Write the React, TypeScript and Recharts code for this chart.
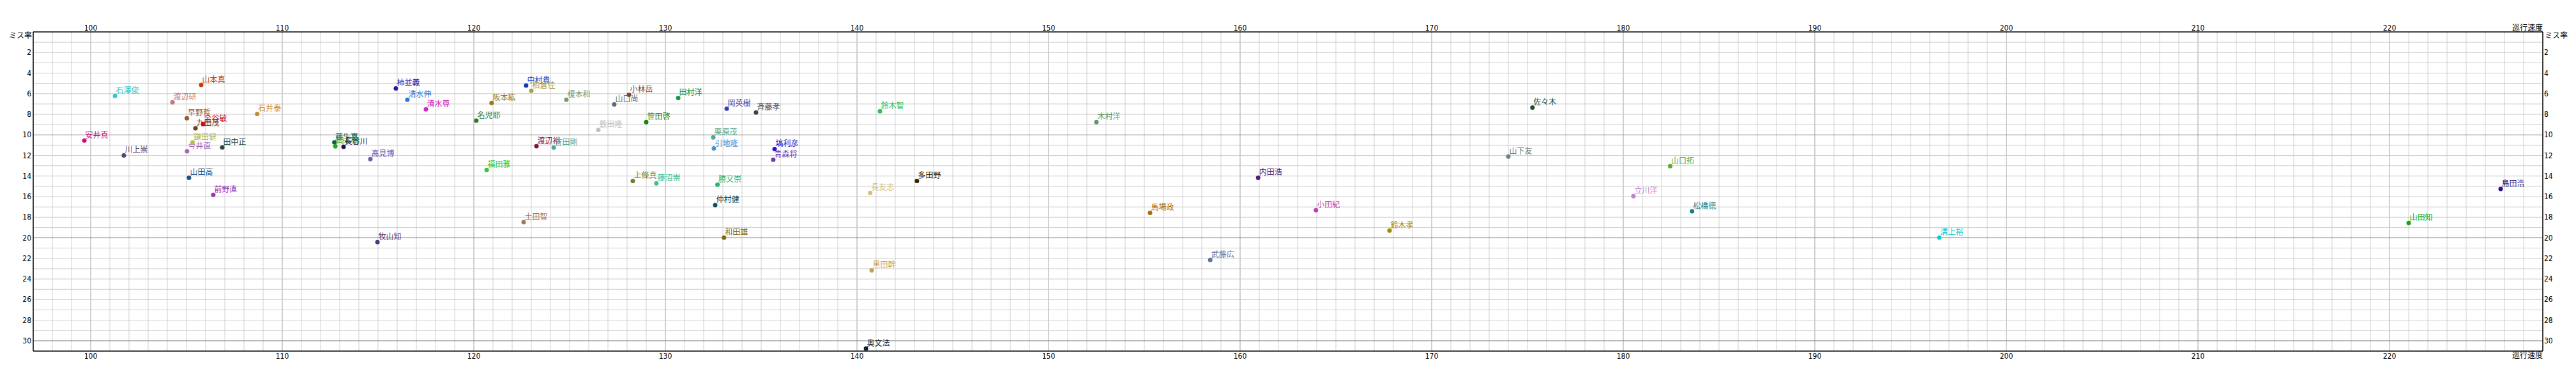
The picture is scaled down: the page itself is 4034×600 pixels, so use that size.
import React from 'react';
import { ScatterChart, Scatter, XAxis, YAxis, ReferenceLine } from 'recharts';

const names = ['安井真','石澤俊','川上崇','渡辺研','早野哲','今井直','山田高','鎌田健','九田茂','山本真','金谷敏','前野直','田中正','石井泰','藤生嘉','岡本徳','長谷川','高見博','牧山知','柿並義','清水伸','清水尊','名児耶','福田雅','阪本紘','土田智','中村貴','柏倉佳','渡辺裕','吉田剛','榎本和','藪田隆','山口尚','小林岳','上條真','笹田啓','藤沼崇','田村洋','栗原茂','引地隆','仲村健','勝又崇','和田雄','岡英樹','斉藤孝','青森将','塙利彦','奥文法','長友志','黒田幹','鈴木智','多田野','木村洋','馬場政','武藤広','内田浩','小田紀','鈴木孝','山下友','佐々木','立川洋','山口拓','松橋徳','溝上裕','山田知','島田浩'];
const speeds = [99.67,101.27,101.73,104.27,105.02,105.03,105.13,105.32,105.47,105.77,105.87,106.4,106.87,108.69,112.72,112.77,113.2,114.6,114.97,115.93,116.53,117.5,120.13,120.67,120.93,122.6,122.73,123.0,123.27,124.17,124.83,126.5,127.33,128.1,128.3,129.0,129.53,130.67,132.5,132.53,132.6,132.72,133.06,133.2,134.73,135.63,135.7,140.47,140.69,140.77,141.2,143.13,152.5,155.3,158.44,160.94,163.96,167.8,174.0,175.26,180.53,182.45,183.59,196.5,221.0,225.8];
const missRates = [10.56,6.22,11.99,6.84,8.39,11.6,14.16,10.72,9.36,5.15,8.95,15.83,11.22,7.96,10.73,11.12,11.16,12.36,20.42,5.48,6.59,7.52,8.62,13.41,6.9,18.47,5.21,5.72,11.1,11.24,6.59,9.51,7.03,6.1,14.47,8.76,14.71,6.41,10.25,11.32,16.82,14.84,19.98,7.46,7.83,12.42,11.37,30.75,15.64,23.15,7.71,14.47,8.76,17.57,22.15,14.16,17.32,19.3,12.11,7.34,15.95,13.04,17.42,19.98,18.56,15.25];
const colors = ['#d0107a','#30c8c8','#504870','#c87878','#a0582a','#a868b8','#185090','#b8c050','#703828','#c83c10','#c81010','#9838b8','#284840','#c88838','#0a6050','#20a820','#201050','#7858a8','#503878','#3018a0','#3078d8','#d028c0','#287828','#30c830','#987818','#a07858','#1038c0','#a8a048','#881030','#48a8a0','#789878','#c0c0c0','#586878','#784838','#708028','#108810','#40c090','#109848','#50a890','#5090d0','#105058','#20b878','#806810','#3840b0','#404050','#7038b0','#3010c8','#102030','#d0c080','#c8a050','#30c050','#3a2000','#609860','#a86c10','#6070a0','#502070','#c040b0','#a08800','#708080','#105038','#c080d0','#60a830','#108088','#10c8d0','#10a810','#301080'];

const xTicks = [100,110,120,130,140,150,160,170,180,190,200,210,220,228];
const yTicks = [0,2,4,6,8,10,12,14,16,18,20,22,24,26,28,30];
const xLabel = '巡行速度';
const yLabel = 'ミス率';
const X_MIN = 97, X_MAX = 228, Y_MIN = 0, Y_MAX = 31;

const xGrid: number[] = [];
for (let v = X_MIN + 1; v < X_MAX; v++) xGrid.push(v);
const yGrid: number[] = [];
for (let v = Y_MIN + 1; v < Y_MAX; v++) yGrid.push(v);

const data = names.map((n, i) => ({ name: n, x: speeds[i], y: missRates[i], color: colors[i] }));

const NUM_FONT = "'Liberation Sans Narrow', 'DejaVu Sans Condensed', sans-serif";
const JP_FONT = "'Noto Sans CJK JP', sans-serif";

const TopTick = (p: any) => {
  const v = p.payload.value;
  if (v === X_MAX) return <text x={p.x} y={p.y - 2} textAnchor="end" fontSize={12} fontFamily={JP_FONT} fill="#000">{xLabel}</text>;
  return <text x={p.x} y={p.y - 2} textAnchor="middle" fontSize={12} fontFamily={NUM_FONT} fill="#000">{v}</text>;
};
const BottomTick = (p: any) => {
  const v = p.payload.value;
  if (v === X_MAX) return <text x={p.x} y={p.y + 11} textAnchor="end" fontSize={12} fontFamily={JP_FONT} fill="#000">{xLabel}</text>;
  return <text x={p.x} y={p.y + 11.5} textAnchor="middle" fontSize={12} fontFamily={NUM_FONT} fill="#000">{v}</text>;
};
const LeftTick = (p: any) => {
  const v = p.payload.value;
  if (v === 0) return <text x={p.x - 2} y={p.y + 10} textAnchor="end" fontSize={12} fontFamily={JP_FONT} fill="#000">{yLabel}</text>;
  return <text x={p.x - 3} y={p.y + 4} textAnchor="end" fontSize={12} fontFamily={NUM_FONT} fill="#000">{v}</text>;
};
const RightTick = (p: any) => {
  const v = p.payload.value;
  if (v === 0) return <text x={p.x + 3} y={p.y + 10} textAnchor="start" fontSize={12} fontFamily={JP_FONT} fill="#000">{yLabel}</text>;
  return <text x={p.x + 2} y={p.y + 4} textAnchor="start" fontSize={12} fontFamily={NUM_FONT} fill="#000">{v}</text>;
};

const PointShape = (p: any) => {
  const { cx, cy, payload } = p;
  if (cx == null || cy == null) return <g />;
  return (
    <g>
      <circle cx={cx} cy={cy} r={3.5} fill={payload.color} />
      <text x={cx + 1.5} y={cy - 4} fontSize={12} fontFamily={JP_FONT} fill={payload.color}>{payload.name}</text>
    </g>
  );
};

export default function App() {
  return (
    <div style={{ position: 'absolute', left: 0, top: 0, width: 4034, height: 600, background: '#fff' }}>
      <ScatterChart width={4034} height={600} margin={{ top: 0, right: 0, bottom: 0, left: 0 }}>
        <XAxis xAxisId="b" type="number" dataKey="x" orientation="bottom" domain={[X_MIN, X_MAX]} ticks={xTicks} interval={0} height={50} tickSize={0} tickMargin={0} tickLine={false} axisLine={{ stroke: '#000', strokeWidth: 1.5 }} tick={<BottomTick />} allowDataOverflow />
        <XAxis xAxisId="t" type="number" dataKey="x" orientation="top" domain={[X_MIN, X_MAX]} ticks={xTicks} interval={0} height={50} tickSize={0} tickMargin={0} tickLine={false} axisLine={{ stroke: '#000', strokeWidth: 1.5 }} tick={<TopTick />} allowDataOverflow />
        <YAxis yAxisId="l" type="number" dataKey="y" orientation="left" domain={[Y_MIN, Y_MAX]} reversed ticks={yTicks} interval={0} width={52} tickSize={0} tickMargin={0} tickLine={false} axisLine={{ stroke: '#000', strokeWidth: 1.5 }} tick={<LeftTick />} allowDataOverflow />
        <YAxis yAxisId="r" type="number" dataKey="y" orientation="right" domain={[Y_MIN, Y_MAX]} reversed ticks={yTicks} interval={0} width={52} tickSize={0} tickMargin={0} tickLine={false} axisLine={{ stroke: '#000', strokeWidth: 1.5 }} tick={<RightTick />} allowDataOverflow />
        {xGrid.map(v => (
          <ReferenceLine key={'gx' + v} xAxisId="b" yAxisId="l" x={v} stroke={v % 10 === 0 ? '#a0a0a0' : '#d0d0d0'} strokeWidth={1} />
        ))}
        {yGrid.map(v => (
          <ReferenceLine key={'gy' + v} xAxisId="b" yAxisId="l" y={v} stroke={v % 10 === 0 ? '#888888' : '#cccccc'} strokeWidth={1} />
        ))}
        <Scatter xAxisId="b" yAxisId="l" data={data} isAnimationActive={false} shape={<PointShape />} />
      </ScatterChart>
    </div>
  );
}
